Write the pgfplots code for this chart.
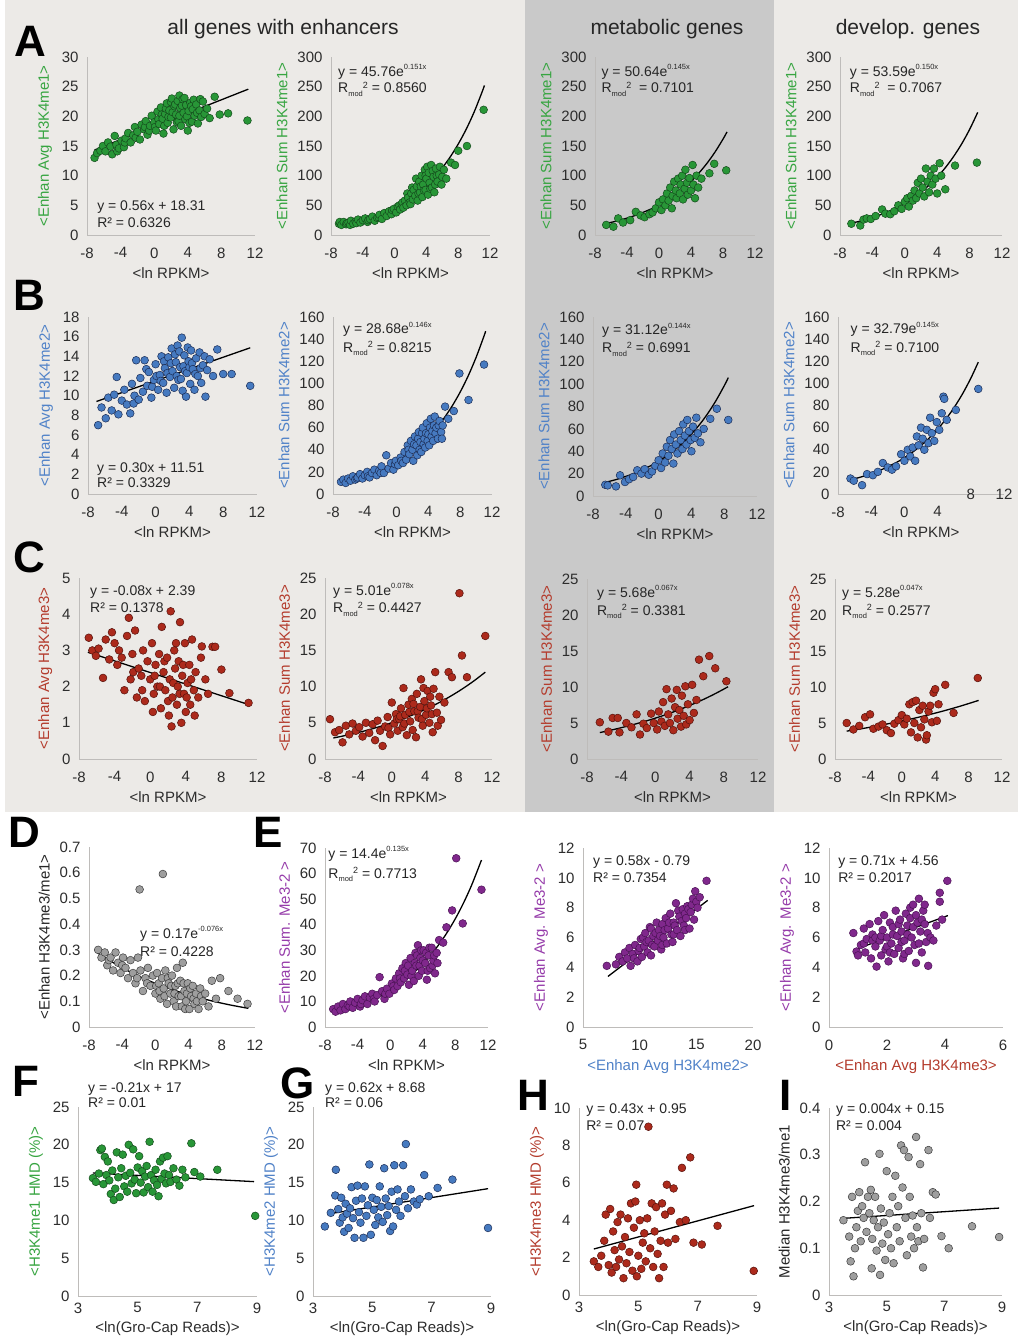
\documentclass[border=0pt]{standalone}
\usepackage{fontspec}
\setmainfont{Liberation Sans}
\usepackage{pgfplots}
\pgfplotsset{compat=1.18}

\definecolor{bglight}{RGB}{236,234,231}
\definecolor{bgdark}{RGB}{201,201,201}
\definecolor{axcol}{RGB}{190,188,186}
\definecolor{tickcol}{RGB}{45,45,45}
\definecolor{gfill}{RGB}{40,150,55}
\definecolor{gedge}{RGB}{20,75,28}
\definecolor{glab}{RGB}{55,165,65}
\definecolor{bfill}{RGB}{70,122,192}
\definecolor{bedge}{RGB}{28,45,85}
\definecolor{blab}{RGB}{80,130,200}
\definecolor{rfill}{RGB}{172,42,28}
\definecolor{redge}{RGB}{85,18,12}
\definecolor{rlab}{RGB}{180,60,45}
\definecolor{pfill}{RGB}{128,40,140}
\definecolor{pedge}{RGB}{75,18,85}
\definecolor{plab}{RGB}{150,60,170}
\definecolor{kfill}{RGB}{158,158,158}
\definecolor{kedge}{RGB}{60,60,60}

\newcommand{\ex}[1]{\raisebox{0.48em}{\fontsize{7.5}{8}\selectfont #1}}
\newcommand{\Rmod}{R\raisebox{-0.25em}{\fontsize{7.5}{8}\selectfont mod}\raisebox{0.32em}{\fontsize{9}{9}\selectfont 2}}

\pgfplotsset{
  panel/.style={
    scale only axis, anchor=south west, clip=false,
    axis lines=left, axis line style={-, draw=axcol, line width=0.9pt},
    major tick length=0pt,
    tick label style={font=\fontsize{15}{15}\selectfont, text=tickcol},
    /pgf/number format/assume math mode=true,
    yticklabel shift=5pt, xticklabel shift=9pt,
    label style={font=\fontsize{15}{17}\selectfont},
    xlabel style={text=tickcol, yshift=-3pt},
    ylabel style={yshift=3pt},
  },
  rpkm/.style={xmin=-8, xmax=12, xtick={-8,-4,0,4,8,12}, xlabel={<ln RPKM>}},
  gro/.style={xmin=3, xmax=9, xtick={3,5,7,9}, xlabel={<ln(Gro-Cap Reads)>},
    xticklabel shift=3pt, xlabel style={yshift=1pt}},
  pts/.style={only marks, mark=*, mark size=3.9pt},
  gp/.style={pts, mark options={fill=gfill, draw=gedge, line width=0.5pt}},
  bp/.style={pts, mark options={fill=bfill, draw=bedge, line width=0.5pt}},
  rp/.style={pts, mark options={fill=rfill, draw=redge, line width=0.5pt}},
  pp/.style={pts, mark options={fill=pfill, draw=pedge, line width=0.5pt}},
  kp/.style={pts, mark options={fill=kfill, draw=kedge, line width=0.5pt}},
  fitl/.style={no marks, black, line width=1.3pt, smooth},
}
\tikzset{eq/.style={font=\fontsize{14}{16}\selectfont, text=black!85, anchor=base west, inner sep=0pt},
  letter/.style={font=\bfseries\fontsize{44}{44}\selectfont, anchor=base west, inner sep=0pt},
  ctitle/.style={font=\fontsize{21}{24}\selectfont, anchor=base, inner sep=0pt, text=black!85}}

\begin{document}
\begin{tikzpicture}
\fill[white] (0,0) rectangle (1018pt,-1343pt);
\fill[bglight] (5pt,0) rectangle (1018pt,-812pt);
\fill[bgdark] (525pt,0) rectangle (774pt,-812pt);

% ---------------- row A ----------------
\begin{axis}[panel, rpkm, at={(87pt,-235pt)}, width=168pt, height=178pt,
  ymin=0, ymax=30, ytick={0,5,...,30}, ylabel={<Enhan Avg H3K4me1>}, ylabel style={text=glab}]
\addplot[gp] coordinates {(-7.1,13.0)(-6.8,13.8)(-6.4,14.2)(-6.1,15.0)(-5.8,14.1)(-5.5,15.6)(-5.2,14.9)(-5.0,13.6)(-4.7,16.7)(-4.5,15.2)(-4.4,14.1)(-4.2,14.6)(-3.9,15.9)(-3.6,14.8)(-3.5,15.6)(-3.4,16.3)(-3.1,17.2)(-2.8,15.6)(-2.5,16.8)(-2.3,18.2)(-2.2,16.4)(-2.0,17.4)(-1.7,16.1)(-1.5,18.6)(-1.2,17.8)(-1.1,18.2)(-1.0,19.2)(-0.8,16.9)(-0.6,17.6)(-0.5,18.4)(-0.3,20.1)(0,19.0)(0.1,18.2)(0.2,17.6)(0.4,20.8)(0.5,19.5)(0.6,18.7)(0.8,21.5)(0.9,20.3)(1.0,19.6)(1.1,17.1)(1.2,18.4)(1.3,20.4)(1.4,21.3)(1.5,22.2)(1.6,18.9)(1.7,19.9)(1.8,21.0)(2.0,19.8)(2.0,22.4)(2.1,23.0)(2.2,20.7)(2.3,17.8)(2.4,21.7)(2.5,22.0)(2.6,20.3)(2.7,19.0)(2.8,22.6)(2.9,19.2)(3.0,20.1)(3.0,23.5)(3.1,21.4)(3.2,18.4)(3.3,21.8)(3.4,22.9)(3.5,20.6)(3.6,23.1)(3.7,19.5)(3.8,21.9)(3.9,20.0)(4.0,17.6)(4.1,20.9)(4.2,18.9)(4.3,22.3)(4.4,21.7)(4.5,19.1)(4.6,21.2)(4.7,22.8)(4.8,20.1)(5.0,22.0)(5.1,20.6)(5.2,18.8)(5.4,21.0)(5.5,22.9)(5.6,19.9)(5.8,22.5)(6.0,20.4)(6.3,21.3)(6.6,19.7)(7.2,23.3)(7.8,20.3)(8.8,20.5)(11.1,19.3)};
\addplot[fitl] coordinates {(-7.1,14.33)(11.2,24.58)};
\node[eq] at (rel axis cs:0.06,0.14) {y = 0.56x + 18.31};
\node[eq] at (rel axis cs:0.06,0.04) {R² = 0.6326};
\end{axis}

\begin{axis}[panel, rpkm, at={(331pt,-235pt)}, width=159pt, height=178pt,
  ymin=0, ymax=300, ytick={0,50,...,300}, ylabel={<Enhan Sum H3K4me1>}, ylabel style={text=glab}]
\addplot[gp] coordinates {(-7.0,19)(-6.9,22)(-6.7,17)(-6.4,22)(-6.1,18)(-6.0,20)(-5.8,21)(-5.6,17)(-5.5,24)(-5.2,19)(-4.9,23)(-4.8,20)(-4.6,26)(-4.3,21)(-4.0,25)(-3.7,28)(-3.4,22)(-3.3,25)(-3.1,27)(-2.8,31)(-2.5,24)(-2.2,29)(-2.0,30)(-1.9,34)(-1.6,27)(-1.3,37)(-1.0,32)(-0.7,40)(-0.4,35)(-0.3,42)(-0.1,44)(0.2,38)(0.4,48)(0.6,50)(0.7,43)(0.9,52)(1.0,55)(1.1,46)(1.3,58)(1.5,50)(1.6,70)(1.7,63)(1.9,55)(2.0,52)(2.1,70)(2.2,80)(2.3,60)(2.4,76)(2.6,66)(2.7,95)(2.8,82)(2.9,58)(3.0,70)(3.1,90)(3.2,72)(3.3,82)(3.4,100)(3.5,64)(3.6,85)(3.7,75)(3.8,110)(3.9,76)(3.9,100)(4.0,95)(4.1,115)(4.2,68)(4.3,105)(4.4,88)(4.5,78)(4.6,118)(4.7,80)(4.8,108)(4.9,98)(5.0,72)(5.1,85)(5.2,112)(5.3,100)(5.4,90)(5.6,102)(5.7,115)(5.9,85)(6.0,98)(6.2,110)(6.5,95)(7.1,122)(7.6,118)(8.0,142)(9.1,150)(11.2,211)};
\addplot[fitl] coordinates {(-7.1,15.7)(-5,21.5)(-3,29.1)(-1,39.3)(0,45.8)(1,53.2)(2,61.9)(3,72.0)(4,83.7)(5,97.4)(6,113.2)(7,131.7)(8,153.2)(9,178.1)(10,207.1)(11,240.9)(11.3,252.1)};
\node[eq] at (rel axis cs:0.044,0.893) {y = 45.76e\ex{0.151x}};
\node[eq] at (rel axis cs:0.044,0.798) {\Rmod\ = 0.8560};
\end{axis}

\begin{axis}[panel, rpkm, at={(595pt,-235pt)}, width=160pt, height=178pt,
  ymin=0, ymax=300, ytick={0,50,...,300}, ylabel={<Enhan Sum H3K4me1>}, ylabel style={text=glab}]
\addplot[gp] coordinates {(-6.6,17)(-5.7,14)(-5.1,28)(-4.5,21)(-3.6,25)(-2.9,39)(-2.3,33)(-1.8,30)(-1.2,35)(-0.8,38)(-0.4,45)(0,55)(0.3,42)(0.5,60)(0.8,50)(1.0,70)(1.2,58)(1.4,80)(1.6,45)(1.7,66)(1.9,90)(2.1,75)(2.2,62)(2.4,95)(2.6,70)(2.7,85)(2.9,100)(3.0,60)(3.2,78)(3.3,110)(3.5,88)(3.6,68)(3.8,96)(4.0,75)(4.2,118)(4.3,85)(4.5,62)(4.7,100)(4.9,80)(5.3,95)(6.3,104)(6.9,120)(8.4,109)};
\addplot[fitl] coordinates {(-6.8,18.9)(-5,24.5)(-3,32.8)(-1,43.8)(0,50.6)(1,58.5)(2,67.7)(3,78.2)(4,90.4)(5,104.6)(6,120.9)(7,139.8)(8,161.6)(8.5,173.7)};
\node[eq] at (rel axis cs:0.04,0.893) {y = 50.64e\ex{0.145x}};
\node[eq] at (rel axis cs:0.04,0.798) {\Rmod\ \ = 0.7101};
\end{axis}

\begin{axis}[panel, rpkm, at={(840pt,-235pt)}, width=162pt, height=178pt,
  ymin=0, ymax=300, ytick={0,50,...,300}, ylabel={<Enhan Sum H3K4me1>}, ylabel style={text=glab}]
\addplot[gp] coordinates {(-6.6,19)(-5.5,16)(-5.1,26)(-4.7,28)(-4.2,27)(-3.6,32)(-2.8,43)(-2.4,36)(-1.8,35)(-1.3,40)(-0.8,50)(-0.4,44)(0,56)(0.3,62)(0.5,48)(0.8,66)(1.0,58)(1.2,75)(1.4,62)(1.6,88)(1.8,70)(2.0,95)(2.2,80)(2.4,65)(2.6,112)(2.8,90)(3.0,72)(3.2,100)(3.4,85)(3.6,112)(3.8,95)(4.0,70)(4.3,121)(4.5,100)(5.0,77)(6.2,117)(8.9,122)};
\addplot[fitl] coordinates {(-6.6,19.9)(-5,25.3)(-3,34.2)(-1,46.1)(0,53.6)(1,62.3)(2,72.3)(3,84.0)(4,97.6)(5,113.4)(6,131.8)(7,153.1)(8,177.9)(9,206.7)};
\node[eq] at (rel axis cs:0.06,0.893) {y = 53.59e\ex{0.150x}};
\node[eq] at (rel axis cs:0.06,0.798) {\Rmod\ \ = 0.7067};
\end{axis}

% ---------------- row B ----------------
\begin{axis}[panel, rpkm, at={(88pt,-494pt)}, width=169pt, height=177pt,
  ymin=0, ymax=18, ytick={0,2,...,18}, ylabel={<Enhan Avg H3K4me2>}, ylabel style={text=blab}]
\addplot[bp] coordinates {(-6.8,7.0)(-6.4,8.8)(-5.9,7.7)(-5.6,9.8)(-5.2,8.5)(-4.9,10.1)(-4.6,11.9)(-4.4,8.1)(-4.0,9.5)(-3.7,10.6)(-3.4,9.1)(-3.0,8.2)(-2.8,11.2)(-2.6,9.2)(-2.5,10.0)(-2.3,13.6)(-2.0,9.6)(-1.8,11.8)(-1.5,10.4)(-1.3,13.6)(-1.1,12.7)(-1.0,11.0)(-0.8,12.4)(-0.5,9.8)(-0.4,10.9)(-0.2,11.6)(0,13.2)(0.1,12.0)(0.3,10.6)(0.5,12.1)(0.6,11.5)(0.7,14.0)(0.9,11.3)(1.0,13.5)(1.1,12.8)(1.3,10.3)(1.4,12.3)(1.5,13.9)(1.7,11.9)(1.8,13.3)(1.9,14.8)(2.0,12.5)(2.2,10.8)(2.3,14.2)(2.4,13.4)(2.5,12.0)(2.6,15.1)(2.7,11.6)(2.8,14.5)(2.9,12.9)(3.0,11.7)(3.1,15.9)(3.2,10.5)(3.3,13.0)(3.4,14.1)(3.5,12.5)(3.6,9.9)(3.7,12.3)(3.8,14.9)(3.9,13.5)(4.0,12.9)(4.1,11.2)(4.2,14.6)(4.3,13.3)(4.4,12.7)(4.6,10.6)(4.7,12.2)(4.8,13.8)(5.0,12.0)(5.2,14.4)(5.3,12.8)(5.4,11.3)(5.6,13.1)(5.8,14.0)(5.9,9.9)(6.1,12.6)(6.4,13.7)(6.8,12.0)(7.3,14.7)(8.0,12.2)(9.0,12.2)(11.2,11.0)};
\addplot[fitl] coordinates {(-7.0,9.41)(11.2,14.87)};
\node[eq] at (rel axis cs:0.053,0.124) {y = 0.30x + 11.51};
\node[eq] at (rel axis cs:0.053,0.034) {R² = 0.3329};
\end{axis}

\begin{axis}[panel, rpkm, at={(333pt,-494pt)}, width=159pt, height=177pt,
  ymin=0, ymax=160, ytick={0,20,...,160}, ylabel={<Enhan Sum H3K4me2>}, ylabel style={text=blab}]
\addplot[bp] coordinates {(-7.0,11)(-6.7,13)(-6.4,10)(-6.1,14)(-5.8,12)(-5.5,16)(-5.2,13)(-5.0,14)(-4.9,15)(-4.6,18)(-4.3,14)(-4.0,17)(-3.7,20)(-3.6,16)(-3.4,15)(-3.1,19)(-2.8,22)(-2.5,17)(-2.2,21)(-2.0,19)(-1.9,25)(-1.6,19)(-1.3,35)(-1.0,23)(-0.7,28)(-0.4,22)(-0.2,27)(-0.1,30)(0.2,26)(0.5,33)(0.6,30)(0.8,28)(1.0,38)(1.2,31)(1.4,44)(1.5,40)(1.6,36)(1.8,48)(2.0,40)(2.1,30)(2.2,45)(2.3,52)(2.5,44)(2.6,35)(2.7,50)(2.8,56)(2.9,40)(3.0,47)(3.1,38)(3.2,55)(3.3,60)(3.4,45)(3.5,50)(3.6,42)(3.7,55)(3.8,64)(3.9,48)(4.0,54)(4.1,44)(4.2,60)(4.3,68)(4.4,52)(4.5,57)(4.6,48)(4.7,62)(4.8,70)(4.9,55)(5.0,60)(5.2,50)(5.3,62)(5.4,66)(5.6,56)(5.7,50)(5.8,62)(6.1,79)(6.5,68)(7.2,75)(7.9,109)(9.05,85)(11.0,117)};
\addplot[fitl] coordinates {(-7,10.3)(-5,13.8)(-3,18.5)(-1,24.8)(0,28.7)(1,33.2)(2,38.4)(3,44.4)(4,51.4)(5,59.5)(6,68.9)(7,79.7)(8,92.2)(9,106.7)(10,123.5)(11,142.9)(11.2,147.2)};
\node[eq] at (rel axis cs:0.063,0.904) {y = 28.68e\ex{0.146x}};
\node[eq] at (rel axis cs:0.063,0.802) {\Rmod\ = 0.8215};
\end{axis}

\begin{axis}[panel, rpkm, at={(593pt,-496pt)}, width=164pt, height=179pt,
  ymin=0, ymax=160, ytick={0,20,...,160}, ylabel={<Enhan Sum H3K4me2>}, ylabel style={text=blab}]
\addplot[bp] coordinates {(-6.5,10)(-6.2,9.5)(-5.2,8.6)(-4.7,18.5)(-4.1,12.5)(-3.6,15)(-3.1,17)(-2.6,23)(-2.1,20)(-1.7,24)(-1.2,19)(-0.8,22)(-0.4,27)(0,32)(0.3,25)(0.5,38)(0.8,30)(1.0,44)(1.2,36)(1.4,50)(1.6,42)(1.8,29)(1.9,55)(2.1,46)(2.3,38)(2.5,58)(2.7,50)(2.9,42)(3.0,64)(3.2,54)(3.4,46)(3.5,68)(3.7,58)(3.9,50)(4.0,40)(4.2,62)(4.4,52)(4.6,70)(4.8,56)(5.1,48)(5.5,60)(6.3,69)(7.1,78)(8.5,68)};
\addplot[fitl] coordinates {(-6.5,12.2)(-5,15.1)(-3,20.2)(-1,26.9)(0,31.1)(1,35.9)(2,41.5)(3,47.9)(4,55.4)(5,63.9)(6,73.8)(7,85.3)(8,98.5)(8.5,105.8)};
\node[eq] at (rel axis cs:0.055,0.9) {y = 31.12e\ex{0.144x}};
\node[eq] at (rel axis cs:0.055,0.8) {\Rmod\ = 0.6991};
\end{axis}

\begin{axis}[panel, rpkm, at={(838pt,-494pt)}, width=166pt, height=177pt,
  xticklabels={-8,-4,0,4,,},
  ymin=0, ymax=160, ytick={0,20,...,160}, ylabel={<Enhan Sum H3K4me2>}, ylabel style={text=blab}]
\addplot[bp] coordinates {(-6.5,14)(-6.1,12)(-5.1,8)(-4.5,18)(-3.8,17)(-3.2,20)(-2.6,28)(-2.0,24)(-1.5,22)(-1.0,25)(-0.4,36)(0,30)(0.4,40)(0.7,34)(1.0,42)(1.3,30)(1.5,52)(1.7,44)(2.0,60)(2.2,50)(2.4,40)(2.7,58)(2.9,46)(3.1,69)(3.3,55)(3.6,48)(3.9,65)(4.2,58)(4.5,73)(4.7,88)(4.8,86)(5.1,67)(6.2,76)(8.9,95)};
\addplot[fitl] coordinates {(-6.5,12.8)(-5,15.9)(-3,21.2)(-1,28.4)(0,32.8)(1,37.9)(2,43.8)(3,50.7)(4,58.6)(5,67.7)(6,78.3)(7,90.5)(8,104.6)(8.9,119.2)};
\node[eq] at (rel axis cs:0.075,0.904) {y = 32.79e\ex{0.145x}};
\node[eq] at (rel axis cs:0.075,0.802) {\Rmod\ = 0.7100};
\node[font=\fontsize{15}{15}\selectfont, text=tickcol, inner sep=0pt] at (axis cs:8,0) {8};
\node[font=\fontsize{15}{15}\selectfont, text=tickcol, inner sep=0pt] at (axis cs:12,0) {12};
\end{axis}

% ---------------- row C ----------------
\begin{axis}[panel, rpkm, at={(79pt,-759pt)}, width=178pt, height=181pt,
  ymin=0, ymax=5, ytick={0,1,...,5}, ylabel={<Enhan Avg H3K4me3>}, ylabel style={text=rlab}]
\addplot[rp] coordinates {(-6.9,3.35)(-6.5,3.0)(-6.1,2.85)(-5.8,3.05)(-5.3,2.24)(-5.0,3.3)(-4.6,2.75)(-4.3,3.5)(-4.0,3.2)(-3.7,2.6)(-3.5,3.0)(-3.2,2.8)(-2.9,1.9)(-2.6,3.4)(-2.4,3.9)(-2.2,2.2)(-2.0,2.9)(-1.9,2.4)(-1.7,3.55)(-1.5,1.7)(-1.3,2.5)(-1.0,2.3)(-0.9,1.9)(-0.8,3.0)(-0.6,1.6)(-0.3,2.7)(0,2.2)(0.2,3.2)(0.3,1.3)(0.4,1.8)(0.5,2.3)(0.6,2.6)(0.8,2.0)(1.0,2.9)(1.1,2.0)(1.2,1.4)(1.3,3.65)(1.5,2.4)(1.6,2.7)(1.7,1.9)(1.9,2.8)(2.0,1.6)(2.1,1.2)(2.2,2.2)(2.3,4.08)(2.4,0.9)(2.5,1.7)(2.6,2.1)(2.7,3.0)(2.8,2.5)(2.9,3.2)(3.0,1.5)(3.1,2.0)(3.2,2.7)(3.3,1.8)(3.35,3.78)(3.5,1.0)(3.6,2.3)(3.7,2.6)(3.8,1.8)(3.9,3.2)(4.0,1.3)(4.1,1.7)(4.2,2.1)(4.4,2.6)(4.5,1.5)(4.6,2.2)(4.7,3.3)(4.9,1.9)(5.0,1.2)(5.1,2.4)(5.4,1.7)(5.7,2.8)(5.8,3.11)(6.2,2.2)(6.5,1.8)(7.0,3.1)(7.3,3.1)(8.0,2.47)(8.9,1.82)(11.05,1.55)};
\addplot[fitl] coordinates {(-7.0,2.95)(11.1,1.50)};
\node[eq] at (rel axis cs:0.062,0.906) {y = -0.08x + 2.39};
\node[eq] at (rel axis cs:0.062,0.807) {R² = 0.1378};
\end{axis}

\begin{axis}[panel, rpkm, at={(325pt,-759pt)}, width=167pt, height=181pt,
  ymin=0, ymax=25, ytick={0,5,...,25}, ylabel={<Enhan Sum H3K4me3>}, ylabel style={text=rlab}]
\addplot[rp] coordinates {(-7.4,5.5)(-6.8,3.7)(-6.3,4.0)(-5.9,2.3)(-5.5,4.6)(-5.1,3.4)(-4.7,4.9)(-4.3,3.9)(-3.9,4.4)(-3.5,3.1)(-3.1,5.0)(-2.7,3.6)(-2.3,4.8)(-2.0,2.6)(-1.7,5.3)(-1.4,3.9)(-1.1,1.8)(-0.8,4.5)(-0.5,5.8)(-0.4,4.3)(-0.2,3.4)(0,7.8)(0.3,4.9)(0.5,6.2)(0.6,5.5)(0.7,3.9)(0.9,5.5)(1.0,5.9)(1.1,7.0)(1.3,4.4)(1.4,9.8)(1.5,4.9)(1.6,6.1)(1.8,3.3)(2.0,7.5)(2.1,6.5)(2.2,5.2)(2.4,8.3)(2.5,4.0)(2.6,7.6)(2.7,6.6)(2.9,3.0)(3.0,9.0)(3.1,6.6)(3.2,5.7)(3.4,7.2)(3.5,11.0)(3.6,5.5)(3.7,4.6)(3.8,9.8)(3.9,8.0)(4.1,6.1)(4.2,7.0)(4.3,9.4)(4.5,5.0)(4.6,8.6)(4.7,7.4)(4.8,6.2)(4.9,3.7)(5.0,9.7)(5.2,12.0)(5.4,6.4)(5.5,4.6)(5.7,8.6)(5.9,5.4)(6.3,7.8)(6.8,12.0)(7.2,11.3)(8.1,22.9)(8.4,14.3)(9.0,11.3)(11.2,17.0)};
\addplot[fitl] coordinates {(-7,2.90)(-5,3.39)(-3,3.96)(-1,4.63)(0,5.01)(1,5.42)(2,5.86)(3,6.33)(4,6.84)(5,7.40)(6,8.00)(7,8.65)(8,9.35)(9,10.11)(10,10.93)(11.2,12.0)};
\node[eq] at (rel axis cs:0.048,0.906) {y = 5.01e\ex{0.078x}};
\node[eq] at (rel axis cs:0.048,0.807) {\Rmod\ = 0.4427};
\end{axis}

\begin{axis}[panel, rpkm, at={(587pt,-759pt)}, width=171pt, height=180pt,
  ymin=0, ymax=25, ytick={0,5,...,25}, ylabel={<Enhan Sum H3K4me3>}, ylabel style={text=rlab}]
\addplot[rp] coordinates {(-6.5,5.1)(-5.5,3.8)(-5.0,5.7)(-4.4,5.7)(-4.2,3.7)(-3.4,5.0)(-2.8,4.4)(-2.2,6.2)(-1.8,3.4)(-1.4,4.9)(-1.0,4.3)(-0.5,6.3)(-0.2,5.0)(0.2,4.1)(0.4,6.6)(0.7,5.2)(0.9,7.9)(1.1,4.6)(1.3,9.7)(1.5,6.2)(1.7,5.0)(1.9,8.4)(2.1,4.0)(2.3,7.2)(2.5,9.6)(2.6,5.6)(2.8,6.8)(3.0,4.5)(3.1,8.8)(3.3,6.0)(3.5,10.1)(3.6,4.8)(3.8,7.6)(4.0,5.4)(4.3,10.3)(4.5,6.4)(4.8,8.2)(5.1,13.8)(5.6,11.5)(6.3,14.3)(7.0,12.6)(8.3,10.8)};
\addplot[fitl] coordinates {(-6.5,3.67)(-5,4.06)(-3,4.65)(-1,5.31)(0,5.68)(1,6.07)(2,6.49)(3,6.94)(4,7.43)(5,7.94)(6,8.49)(7,9.08)(8,9.71)(8.5,10.04)};
\node[eq] at (rel axis cs:0.058,0.9) {y = 5.68e\ex{0.067x}};
\node[eq] at (rel axis cs:0.058,0.8) {\Rmod\ = 0.3381};
\end{axis}

\begin{axis}[panel, rpkm, at={(835pt,-759pt)}, width=167pt, height=180pt,
  ymin=0, ymax=25, ytick={0,5,...,25}, ylabel={<Enhan Sum H3K4me3>}, ylabel style={text=rlab}]
\addplot[rp] coordinates {(-6.6,5.0)(-5.8,4.1)(-5.1,4.6)(-4.4,5.8)(-3.8,6.2)(-3.4,4.2)(-2.8,4.5)(-2.3,4.8)(-1.8,4.0)(-1.3,3.6)(-0.9,4.9)(-0.4,5.4)(0,6.1)(0.3,4.8)(0.6,5.6)(0.9,7.6)(1.1,3.7)(1.3,7.9)(1.5,5.0)(1.7,8.1)(1.9,3.0)(2.1,6.8)(2.3,4.4)(2.5,7.4)(2.7,5.5)(2.9,2.7)(3.0,3.3)(3.2,6.6)(3.4,7.4)(3.6,5.1)(3.8,9.2)(4.0,9.7)(4.2,5.3)(4.4,7.6)(5.2,10.3)(6.2,6.4)(9.1,11.25)};
\addplot[fitl] coordinates {(-6.6,3.87)(-5,4.17)(-3,4.59)(-1,5.04)(0,5.28)(1,5.53)(3,6.08)(5,6.68)(7,7.34)(9.2,8.14)};
\node[eq] at (rel axis cs:0.042,0.9) {y = 5.28e\ex{0.047x}};
\node[eq] at (rel axis cs:0.042,0.8) {\Rmod\ = 0.2577};
\end{axis}

% ---------------- row D / E ----------------
\begin{axis}[panel, rpkm, at={(89pt,-1027pt)}, width=166pt, height=180pt,
  ymin=0, ymax=0.7, ytick={0,0.1,0.2,0.3,0.4,0.5,0.6,0.7}, ylabel={<Enhan H3K4me3/me1>}, ylabel style={text=black!85}]
\addplot[kp] coordinates {(-6.9,0.30)(-6.5,0.27)(-6.1,0.29)(-5.8,0.24)(-5.6,0.26)(-5.4,0.27)(-5.1,0.22)(-4.8,0.29)(-4.5,0.25)(-4.2,0.21)(-4.0,0.24)(-3.9,0.27)(-3.6,0.23)(-3.3,0.19)(-3.0,0.26)(-2.7,0.21)(-2.4,0.17)(-2.2,0.19)(-2.1,0.27)(-1.9,0.535)(-1.8,0.22)(-1.5,0.14)(-1.2,0.19)(-1.0,0.17)(-0.9,0.23)(-0.6,0.16)(-0.3,0.20)(0,0.13)(0.1,0.16)(0.2,0.21)(0.4,0.17)(0.5,0.14)(0.6,0.11)(0.8,0.19)(0.9,0.595)(1.0,0.15)(1.1,0.12)(1.2,0.22)(1.4,0.09)(1.5,0.19)(1.6,0.17)(1.8,0.13)(1.9,0.16)(2.0,0.20)(2.2,0.10)(2.3,0.13)(2.4,0.16)(2.5,0.08)(2.6,0.23)(2.7,0.17)(2.8,0.12)(3.0,0.18)(3.1,0.12)(3.2,0.08)(3.3,0.25)(3.4,0.17)(3.5,0.14)(3.6,0.07)(3.7,0.10)(3.8,0.13)(3.9,0.17)(4.1,0.07)(4.2,0.15)(4.3,0.12)(4.5,0.16)(4.6,0.11)(4.7,0.09)(4.9,0.13)(5.0,0.10)(5.2,0.07)(5.4,0.15)(5.5,0.12)(5.7,0.10)(6.0,0.13)(6.4,0.08)(6.8,0.18)(7.3,0.11)(7.8,0.19)(8.8,0.14)(9.9,0.11)(11.1,0.09)};
\addplot[fitl] coordinates {(-7,0.289)(-5,0.249)(-3,0.2135)(-1,0.183)(0,0.17)(1,0.1576)(3,0.1353)(5,0.1163)(7,0.0999)(9,0.0858)(11.2,0.0726)};
\node[eq] at (rel axis cs:0.307,0.494) {y = 0.17e\ex{-0.076x}};
\node[eq] at (rel axis cs:0.307,0.389) {R² = 0.4228};
\end{axis}

\begin{axis}[panel, rpkm, at={(325pt,-1027pt)}, width=163pt, height=179pt,
  ymin=0, ymax=70, ytick={0,10,...,70}, ylabel={<Enhan Sum. Me3-2 >}, ylabel style={text=plab}]
\addplot[pp] coordinates {(-7.0,7)(-6.7,6)(-6.4,8)(-6.1,6.5)(-5.8,9)(-5.5,7)(-5.2,8.5)(-5.0,8)(-4.9,10)(-4.6,7.5)(-4.3,9.5)(-4.0,11)(-3.7,8)(-3.6,9)(-3.4,10.5)(-3.1,12)(-2.8,9)(-2.5,11.5)(-2.2,13)(-2.0,11)(-1.9,10)(-1.6,12.5)(-1.3,19.5)(-1.0,14)(-0.7,11)(-0.6,13)(-0.4,15)(-0.1,13)(0.2,17)(0.4,16)(0.5,14.5)(0.7,19)(0.9,16)(1.1,21)(1.2,19)(1.3,17.5)(1.5,23)(1.7,19)(1.8,22)(1.9,25)(2.1,20.5)(2.2,24)(2.3,16.5)(2.5,27)(2.6,20)(2.7,22)(2.9,18)(3.0,25)(3.1,29)(3.2,24)(3.3,28)(3.4,32)(3.5,20)(3.6,24)(3.7,27)(3.8,30)(3.9,22)(4.0,26)(4.1,30)(4.3,25)(4.4,29)(4.5,18.5)(4.6,22)(4.7,28)(4.8,31)(4.9,23)(5.1,31)(5.2,24)(5.3,26)(5.4,28)(5.5,21)(5.7,29)(5.8,25)(6.0,34)(6.5,33)(6.9,39)(7.6,45.6)(8.1,66)(8.9,40.5)(11.2,53.7)};
\addplot[fitl] coordinates {(-7,5.60)(-5,7.33)(-3,9.60)(-1,12.58)(0,14.4)(1,16.48)(2,18.86)(3,21.59)(4,24.71)(5,28.28)(6,32.37)(7,37.05)(8,42.40)(9,48.53)(10,55.55)(11.2,65.3)};
\node[eq] at (rel axis cs:0.02,0.944) {y = 14.4e\ex{0.135x}};
\node[eq] at (rel axis cs:0.02,0.832) {\Rmod\ = 0.7713};
\end{axis}

\begin{axis}[panel, at={(583pt,-1027pt)}, width=170pt, height=179pt,
  xmin=5, xmax=20, xtick={5,10,15,20}, xlabel={<Enhan Avg H3K4me2>}, xlabel style={text=blab},
  ymin=0, ymax=12, ytick={0,2,...,12}, ylabel={<Enhan Avg. Me3-2 >}, ylabel style={text=plab}]
\addplot[pp] coordinates {(7.1,4.1)(7.9,4.2)(8.2,4.7)(8.5,4.4)(8.7,5.0)(8.9,4.6)(9.1,5.3)(9.2,4.1)(9.4,4.9)(9.5,4.6)(9.6,5.5)(9.8,4.4)(9.9,5.1)(10.0,5.3)(10.1,5.9)(10.2,4.7)(10.3,6.0)(10.4,5.4)(10.5,6.3)(10.6,5.7)(10.7,5.0)(10.8,5.8)(10.9,6.7)(11.0,4.8)(11.0,6.6)(11.1,5.5)(11.2,6.1)(11.3,5.4)(11.4,6.3)(11.5,7.0)(11.6,5.8)(11.7,6.5)(11.8,6.1)(11.9,5.2)(12.0,6.9)(12.0,5.5)(12.1,6.0)(12.2,6.5)(12.3,7.3)(12.4,5.6)(12.5,6.6)(12.6,7.0)(12.7,7.6)(12.8,6.2)(12.9,5.7)(13.0,7.0)(13.0,6.2)(13.1,6.8)(13.2,8.3)(13.3,6.5)(13.4,7.8)(13.5,7.4)(13.6,6.1)(13.7,7.1)(13.8,7.9)(13.9,6.8)(14.0,7.6)(14.0,6.5)(14.1,7.3)(14.2,8.1)(14.3,7.9)(14.4,6.6)(14.5,7.7)(14.6,8.2)(14.7,8.6)(14.8,7.2)(14.9,9.1)(15.0,8.4)(15.1,8.0)(15.3,8.7)(15.9,9.8)};
\addplot[fitl] coordinates {(7.2,3.39)(16.0,8.49)};
\node[eq] at (rel axis cs:0.059,0.905) {y = 0.58x - 0.79};
\node[eq] at (rel axis cs:0.059,0.81) {R² = 0.7354};
\end{axis}

\begin{axis}[panel, at={(829pt,-1027pt)}, width=174pt, height=179pt,
  xmin=0, xmax=6, xtick={0,2,4,6}, xlabel={<Enhan Avg H3K4me3>}, xlabel style={text=rlab},
  ymin=0, ymax=12, ytick={0,2,...,12}, ylabel={<Enhan Avg. Me3-2 >}, ylabel style={text=plab}]
\addplot[pp] coordinates {(0.84,6.3)(0.95,5.06)(1.0,4.8)(1.1,5.5)(1.2,6.6)(1.2,5.6)(1.25,5.0)(1.3,5.9)(1.4,6.9)(1.45,4.6)(1.5,6.2)(1.5,5.8)(1.6,5.4)(1.6,6.0)(1.64,4.05)(1.7,7.1)(1.75,5.8)(1.8,4.8)(1.8,6.1)(1.85,6.5)(1.9,7.5)(1.95,5.2)(2.0,6.0)(2.0,5.4)(2.05,4.4)(2.1,7.0)(2.1,5.0)(2.15,5.6)(2.2,6.7)(2.2,6.2)(2.25,4.9)(2.3,7.8)(2.35,6.1)(2.4,5.3)(2.4,6.9)(2.45,7.2)(2.5,6.4)(2.5,5.7)(2.55,4.6)(2.6,5.8)(2.6,4.9)(2.65,7.6)(2.7,6.8)(2.7,6.2)(2.75,5.1)(2.8,7.3)(2.8,8.0)(2.85,6.0)(2.9,8.2)(2.9,6.7)(2.95,5.5)(3.0,4.3)(3.0,7.5)(3.05,7.0)(3.1,8.6)(3.1,5.6)(3.15,6.4)(3.2,5.0)(3.2,7.2)(3.25,7.8)(3.3,6.9)(3.3,8.2)(3.35,5.7)(3.4,6.3)(3.42,4.1)(3.5,6.0)(3.6,5.8)(3.7,6.8)(3.82,8.4)(3.82,9.0)(3.9,7.2)(4.08,9.8)};
\addplot[fitl] coordinates {(0.85,5.16)(4.1,7.47)};
\node[eq] at (rel axis cs:0.052,0.905) {y = 0.71x + 4.56};
\node[eq] at (rel axis cs:0.052,0.81) {R² = 0.2017};
\end{axis}

% ---------------- row F-I ----------------
\begin{axis}[panel, gro, at={(78pt,-1296pt)}, width=179pt, height=189pt,
  ymin=0, ymax=25, ytick={0,5,...,25}, ylabel={<H3K4me1 HMD (\%)>}, ylabel style={text=glab}]
\addplot[gp] coordinates {(3.5,15.6)(3.6,15.1)(3.7,16.2)(3.75,19.3)(3.8,19.5)(3.85,14.8)(3.9,18.4)(3.95,16.0)(4.0,17.8)(4.05,15.3)(4.1,13.5)(4.15,16.6)(4.2,12.7)(4.25,14.2)(4.3,19.0)(4.35,15.7)(4.4,13.1)(4.45,16.9)(4.5,18.7)(4.55,14.5)(4.6,15.9)(4.65,13.8)(4.7,20.0)(4.75,16.3)(4.8,14.9)(4.85,19.4)(4.9,15.4)(4.95,13.6)(5.0,17.0)(5.05,18.5)(5.1,15.0)(5.15,16.5)(5.2,13.7)(5.25,15.8)(5.3,17.2)(5.35,14.4)(5.4,20.4)(5.45,16.0)(5.5,13.8)(5.55,15.3)(5.6,16.7)(5.65,14.7)(5.7,13.2)(5.75,17.8)(5.8,15.5)(5.85,18.3)(5.9,16.2)(5.95,14.9)(6.0,18.5)(6.05,16.0)(6.1,15.1)(6.2,16.9)(6.3,15.4)(6.4,14.6)(6.5,16.7)(6.6,15.7)(6.8,20.2)(6.9,16.4)(7.1,15.8)(7.67,16.7)(8.94,10.6)};
\addplot[fitl] coordinates {(3.5,16.27)(8.9,15.13)};
\node[eq] at (rel axis cs:0.056,1.079) {y = -0.21x + 17};
\node[eq] at (rel axis cs:0.056,1.0) {R² = 0.01};
\end{axis}

\begin{axis}[panel, gro, at={(313pt,-1296pt)}, width=178pt, height=189pt,
  ymin=0, ymax=25, ytick={0,5,...,25}, ylabel={<H3K4me2 HMD (\%)>}, ylabel style={text=blab}]
\addplot[bp] coordinates {(3.4,9.2)(3.6,11.0)(3.75,13.3)(3.77,16.7)(3.85,11.5)(3.9,9.7)(3.95,13.0)(4.0,10.4)(4.05,8.5)(4.1,12.2)(4.15,10.9)(4.2,9.0)(4.25,11.6)(4.3,14.4)(4.35,10.3)(4.4,7.7)(4.45,12.6)(4.5,14.6)(4.55,11.1)(4.6,9.7)(4.65,12.9)(4.7,7.7)(4.75,14.5)(4.8,10.6)(4.85,12.0)(4.9,17.4)(4.95,8.1)(5.0,13.0)(5.05,11.4)(5.1,9.4)(5.15,12.7)(5.2,10.4)(5.25,14.5)(5.3,11.8)(5.35,9.8)(5.4,16.9)(5.45,12.9)(5.5,10.7)(5.55,11.9)(5.6,8.6)(5.65,13.8)(5.7,9.2)(5.74,17.3)(5.8,11.4)(5.85,14.1)(5.9,12.5)(5.95,10.6)(6.04,17.3)(6.1,13.2)(6.13,20.1)(6.2,11.6)(6.3,14.1)(6.4,12.5)(6.5,12.1)(6.6,12.8)(6.75,16.0)(6.9,13.2)(7.2,14.3)(7.7,15.4)(8.9,9.0)};
\addplot[fitl] coordinates {(3.5,10.85)(8.9,14.20)};
\node[eq] at (rel axis cs:0.067,1.079) {y = 0.62x + 8.68};
\node[eq] at (rel axis cs:0.067,1.0) {R² = 0.06};
\end{axis}

\begin{axis}[panel, gro, at={(579pt,-1295pt)}, width=178pt, height=187pt,
  ymin=0, ymax=10, ytick={0,2,...,10}, ylabel={<H3K4me3 HMD (\%)>}, ylabel style={text=rlab}]
\addplot[rp] coordinates {(3.5,1.8)(3.65,1.5)(3.75,2.1)(3.85,2.9)(3.9,4.3)(4.0,1.6)(4.05,4.6)(4.1,1.2)(4.15,3.4)(4.2,2.4)(4.25,1.5)(4.3,3.9)(4.35,1.9)(4.4,4.3)(4.45,2.6)(4.5,0.9)(4.55,3.1)(4.6,1.7)(4.65,4.1)(4.7,2.3)(4.75,4.9)(4.8,1.3)(4.85,3.6)(4.9,5.0)(4.93,5.9)(4.95,1.0)(5.0,2.1)(5.05,4.0)(5.1,1.4)(5.15,2.8)(5.2,3.3)(5.25,1.8)(5.3,4.1)(5.34,9.0)(5.4,2.5)(5.45,4.9)(5.5,1.5)(5.55,3.4)(5.6,4.7)(5.65,2.2)(5.7,0.9)(5.75,2.9)(5.8,4.9)(5.85,1.5)(5.9,4.3)(5.96,5.9)(6.0,2.8)(6.1,4.5)(6.19,5.7)(6.25,3.0)(6.4,3.9)(6.47,6.8)(6.6,4.0)(6.75,7.36)(6.86,2.8)(7.14,2.7)(7.67,3.7)(8.89,1.29)};
\addplot[fitl] coordinates {(3.5,2.46)(8.9,4.78)};
\node[eq] at (rel axis cs:0.04,0.968) {y = 0.43x + 0.95};
\node[eq] at (rel axis cs:0.04,0.882) {R² = 0.07};
\end{axis}

\begin{axis}[panel, gro, at={(829pt,-1295pt)}, width=173pt, height=187pt,
  ymin=0, ymax=0.4, ytick={0,0.1,0.2,0.3,0.4}, ylabel={Median H3K4me3/me1}, ylabel style={text=black!85}]
\addplot[kp] coordinates {(3.5,0.16)(3.7,0.125)(3.75,0.072)(3.8,0.21)(3.85,0.04)(3.9,0.10)(3.95,0.145)(4.0,0.18)(4.05,0.22)(4.1,0.115)(4.15,0.19)(4.2,0.165)(4.25,0.284)(4.3,0.135)(4.35,0.21)(4.4,0.175)(4.45,0.225)(4.48,0.057)(4.5,0.12)(4.55,0.16)(4.6,0.21)(4.65,0.095)(4.7,0.145)(4.75,0.302)(4.77,0.043)(4.8,0.185)(4.85,0.11)(4.9,0.155)(4.95,0.075)(5.0,0.265)(5.05,0.13)(5.1,0.175)(5.15,0.10)(5.2,0.21)(5.24,0.068)(5.3,0.255)(5.35,0.145)(5.4,0.19)(5.45,0.115)(5.5,0.32)(5.55,0.23)(5.6,0.31)(5.65,0.165)(5.7,0.085)(5.76,0.295)(5.8,0.21)(5.85,0.125)(5.9,0.17)(5.95,0.10)(6.02,0.338)(6.05,0.145)(6.1,0.115)(6.16,0.28)(6.2,0.175)(6.26,0.059)(6.3,0.12)(6.45,0.31)(6.5,0.165)(6.6,0.22)(6.7,0.215)(6.9,0.126)(7.15,0.10)(7.96,0.147)(8.9,0.124)};
\addplot[fitl] coordinates {(3.5,0.164)(8.9,0.186)};
\node[eq] at (rel axis cs:0.04,0.968) {y = 0.004x + 0.15};
\node[eq] at (rel axis cs:0.04,0.882) {R² = 0.004};
\end{axis}

% ---------------- titles and panel letters ----------------
\node[ctitle] at (283pt,-35pt) {all genes with enhancers};
\node[ctitle] at (667pt,-35pt) {metabolic genes};
\node[ctitle] at (908pt,-35pt) {develop. genes};
\node[letter] at (14pt,-57pt) {A};
\node[letter] at (13pt,-310pt) {B};
\node[letter] at (13pt,-572pt) {C};
\node[letter] at (8pt,-847pt) {D};
\node[letter] at (253pt,-847pt) {E};
\node[letter] at (12pt,-1096pt) {F};
\node[letter] at (280pt,-1098pt) {G};
\node[letter] at (517pt,-1110pt) {H};
\node[letter] at (779pt,-1110pt) {I};

\pgfresetboundingbox
\useasboundingbox (0,0) rectangle (1018pt,-1343pt);
\end{tikzpicture}
\end{document}
